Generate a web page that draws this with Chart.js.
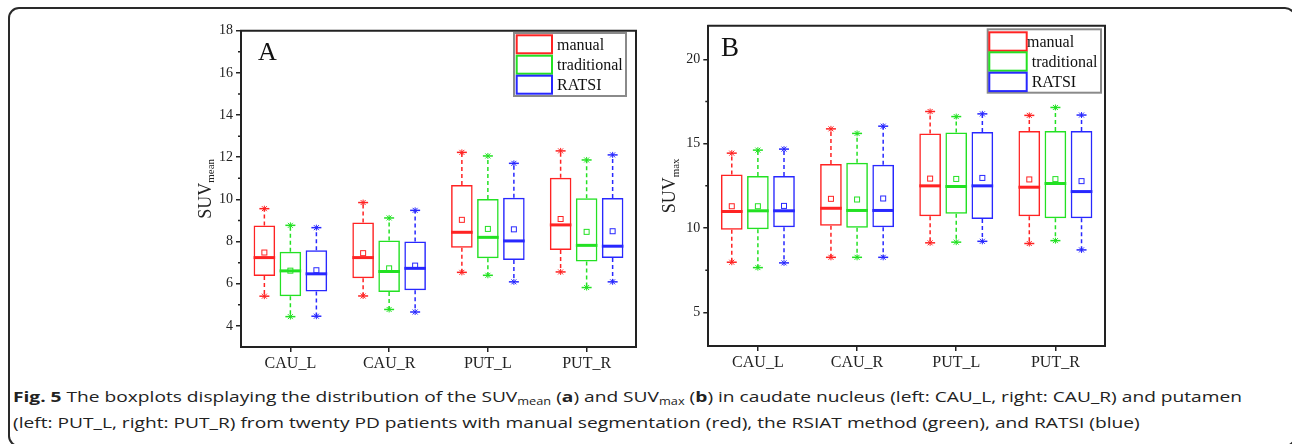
<!DOCTYPE html>
<html><head><meta charset="utf-8">
<script src="https://cdn.jsdelivr.net/npm/chart.js@4.4.0/dist/chart.umd.min.js"></script>
<style>
html,body{margin:0;padding:0;background:#fff;width:1292px;height:444px;overflow:hidden;position:relative;}
#frame{position:absolute;left:8px;top:7px;width:1288px;height:440px;border:2px solid #2a2a2a;border-radius:11px;box-sizing:border-box;}
#ca{position:absolute;left:190px;top:10px;}
#cb{position:absolute;left:650px;top:10px;}
.cap{position:absolute;left:13px;font-family:"Open Sans",sans-serif;font-size:15px;line-height:20px;color:#222;white-space:nowrap;transform-origin:0 0;}
.cap sub{font-size:10px;line-height:0;vertical-align:-3px;}
</style></head>
<body>
<div id="frame"></div>
<canvas id="ca" width="455" height="375"></canvas>
<canvas id="cb" width="460" height="375"></canvas>
<div class="cap" id="cap1" style="top:386px"><b>Fig. 5</b> The boxplots displaying the distribution of the SUV<sub>mean</sub> (<b>a</b>) and SUV<sub>max</sub> (<b>b</b>) in caudate nucleus (left: CAU_L, right: CAU_R) and putamen</div>
<div class="cap" id="cap2" style="top:412px">(left: PUT_L, right: PUT_R) from twenty PD patients with manual segmentation (red), the RSIAT method (green), and RATSI (blue)</div>
<script>
// ---- data ----
const categories = ['CAU_L', 'CAU_R', 'PUT_L', 'PUT_R'];
const seriesNames = ['manual', 'traditional', 'RATSI'];
// each entry: [min, q1, median, q3, max, mean]
const meanManual      = [[5.41,6.37,7.24,8.76,9.56,7.48],[5.42,6.26,7.24,8.91,9.85,7.45],[6.54,7.71,8.44,10.68,12.23,9.03],[6.56,7.60,8.79,11.03,12.30,9.07]];
const meanTraditional = [[4.44,5.41,6.61,7.52,8.77,6.62],[4.78,5.61,6.58,8.05,9.12,6.73],[6.40,7.21,8.20,10.02,12.06,8.60],[5.82,7.05,7.82,10.05,11.87,8.46]];
const meanRatsi       = [[4.46,5.63,6.47,7.59,8.66,6.64],[4.66,5.69,6.73,8.00,9.48,6.86],[6.09,7.13,8.03,10.08,11.71,8.58],[6.09,7.22,7.78,10.07,12.11,8.49]];
const maxManual       = [[7.97,9.89,10.98,13.17,14.44,11.29],[8.26,10.14,11.17,13.79,15.88,11.73],[9.12,10.70,12.50,15.61,16.91,12.93],[9.08,10.70,12.42,15.75,16.68,12.88]];
const maxTraditional  = [[7.65,9.93,11.02,13.09,14.62,11.29],[8.26,10.01,11.04,13.87,15.61,11.69],[9.16,10.84,12.46,15.67,16.61,12.91],[9.25,10.58,12.64,15.75,17.15,12.90]];
const maxRatsi        = [[7.93,10.05,11.02,13.09,14.68,11.31],[8.26,10.05,11.04,13.75,16.04,11.75],[9.21,10.54,12.50,15.69,16.77,12.97],[8.70,10.58,12.16,15.75,16.70,12.78]];
const yTicksMean = [4, 6, 8, 10, 12, 14, 16, 18];
const yMinorMean = [5, 7, 9, 11, 13, 15, 17];
const yTicksMax = [5, 10, 15, 20];
const yMinorMax = [7.5, 12.5, 17.5];

// ---- styles ----
const colors = ['rgb(255,35,35)', 'rgb(35,225,35)', 'rgb(40,40,255)'];
const AX = '#222';
const SERIF = '"Liberation Serif","Times New Roman",serif';

const boxPlugin = {
  id: 'boxextras',
  afterDatasetsDraw(chart) {
    const ctx = chart.ctx, ys = chart.scales.y;
    chart.data.datasets.forEach((ds, di) => {
      const meta = chart.getDatasetMeta(di);
      meta.data.forEach((bar, i) => {
        const s = ds.stats[i];
        const x = bar.x, w = bar.width;
        const pMin = ys.getPixelForValue(s[0]), pQ1 = ys.getPixelForValue(s[1]),
              pMed = ys.getPixelForValue(s[2]), pQ3 = ys.getPixelForValue(s[3]),
              pMax = ys.getPixelForValue(s[4]), pMean = ys.getPixelForValue(s[5]);
        ctx.save();
        ctx.strokeStyle = ds.borderColor;
        ctx.lineWidth = 1.5;
        ctx.setLineDash([4, 3]);
        ctx.beginPath();
        ctx.moveTo(x, pQ3); ctx.lineTo(x, pMax);
        ctx.moveTo(x, pQ1); ctx.lineTo(x, pMin);
        ctx.stroke();
        ctx.setLineDash([]);
        // caps
        [pMax, pMin].forEach(py => {
          ctx.lineWidth = 1.5;
          ctx.beginPath();
          ctx.moveTo(x - 5, py); ctx.lineTo(x + 5, py);
          ctx.stroke();
          ctx.lineWidth = 1;
          ctx.beginPath();
          ctx.moveTo(x - 2.5, py - 2.5); ctx.lineTo(x + 2.5, py + 2.5);
          ctx.moveTo(x - 2.5, py + 2.5); ctx.lineTo(x + 2.5, py - 2.5);
          ctx.moveTo(x, py - 3); ctx.lineTo(x, py + 3);
          ctx.stroke();
        });
        // median
        ctx.lineWidth = 3;
        ctx.beginPath();
        ctx.moveTo(x - w / 2, pMed); ctx.lineTo(x + w / 2, pMed);
        ctx.stroke();
        // mean
        ctx.lineWidth = 1;
        ctx.strokeRect(x - 2.5, pMean - 2.5, 5, 5);
        ctx.restore();
      });
    });
  }
};

const decoPlugin = {
  id: 'deco',
  afterDraw(chart, args, opts) {
    const ctx = chart.ctx, a = chart.chartArea, ys = chart.scales.y;
    ctx.save();
    // top and right frame
    ctx.strokeStyle = AX; ctx.lineWidth = 2;
    ctx.beginPath();
    ctx.moveTo(a.left - 1, a.top); ctx.lineTo(a.right, a.top); ctx.lineTo(a.right, a.bottom + 1);
    ctx.stroke();
    // minor ticks
    ctx.lineWidth = 1.5;
    ctx.beginPath();
    opts.minor.forEach(v => {
      const py = ys.getPixelForValue(v);
      ctx.moveTo(a.left - 3, py); ctx.lineTo(a.left, py);
    });
    ctx.stroke();
    // panel letter
    ctx.fillStyle = '#111';
    ctx.font = opts.letterSize + 'px ' + SERIF;
    ctx.textBaseline = 'alphabetic';
    ctx.textAlign = 'left';
    ctx.fillText(opts.letter, opts.letterX, opts.letterY);
    // y title with subscript
    const cy = (a.top + a.bottom) / 2;
    ctx.translate(opts.titleX, cy);
    ctx.rotate(-Math.PI / 2);
    ctx.font = '18px ' + SERIF;
    const w1 = ctx.measureText('SUV').width;
    ctx.font = '11px ' + SERIF;
    const w2 = ctx.measureText(opts.sub).width;
    const start = -(w1 + w2) / 2;
    ctx.fillStyle = AX;
    ctx.font = '18px ' + SERIF;
    ctx.fillText('SUV', start, 0);
    ctx.font = '11px ' + SERIF;
    ctx.fillText(opts.sub, start + w1, 3.5);
    ctx.restore();
    // legend
    const L = opts.legend;
    ctx.save();
    ctx.strokeStyle = '#8a8a8a'; ctx.lineWidth = 2;
    ctx.fillStyle = '#fff';
    ctx.fillRect(L.x, L.y, L.w, L.h);
    ctx.strokeRect(L.x, L.y, L.w, L.h);
    ctx.font = '16px ' + SERIF;
    ctx.textBaseline = 'middle';
    chart.data.datasets.forEach((ds, i) => {
      const top = L.rowTops[i];
      ctx.strokeStyle = ds.borderColor; ctx.lineWidth = 2;
      ctx.strokeRect(L.rx, top, L.rw, L.rh);
      ctx.fillStyle = '#111';
      ctx.fillText(ds.label, L.tx[i], top + L.rh / 2 + 1);
    });
    ctx.restore();
  }
};

function makeChart(id, series, yMin, yMax, majorTicks, minorTicks, dims, deco) {
  const datasets = series.map((stats, i) => ({
    label: seriesNames[i],
    data: stats.map(s => [s[1], s[3]]),
    stats: stats,
    backgroundColor: 'rgba(0,0,0,0)',
    borderColor: colors[i],
    borderWidth: 1.5,
    borderSkipped: false
  }));
  deco.minor = minorTicks;
  return new Chart(document.getElementById(id), {
    type: 'bar',
    data: { labels: categories, datasets },
    plugins: [boxPlugin, decoPlugin],
    options: {
      responsive: false, animation: false, devicePixelRatio: 1,
      layout: { padding: { top: dims.top, right: dims.right, left: 0, bottom: 0 } },
      datasets: { bar: { categoryPercentage: 0.79, barPercentage: 0.83 } },
      plugins: { legend: { display: false }, tooltip: { enabled: false }, deco: deco },
      scales: {
        x: {
          offset: true,
          grid: { display: true, offset: false, drawOnChartArea: false, drawTicks: true, tickLength: 5, color: AX, lineWidth: 1.5 },
          border: { display: true, color: AX, width: 2 },
          ticks: { font: { family: SERIF, size: 16 }, color: AX, padding: 2, maxRotation: 0 },
          afterFit(s) { s.height = dims.xh; }
        },
        y: {
          min: yMin, max: yMax,
          afterBuildTicks(s) { s.ticks = majorTicks.map(v => ({ value: v })); },
          grid: { drawOnChartArea: false, tickLength: 5, color: AX, lineWidth: 1.5 },
          border: { display: true, color: AX, width: 2 },
          ticks: { font: { family: SERIF, size: 14 }, color: AX, padding: 3 },
          afterFit(s) { s.width = dims.yw; }
        }
      }
    }
  });
}

makeChart('ca', [meanManual, meanTraditional, meanRatsi], 3, 18, yTicksMean, yMinorMean,
  { top: 20.7, right: 9, xh: 38, yw: 51 },
  { letter: 'A', letterSize: 26, letterX: 68, letterY: 50, titleX: 20.7, sub: 'mean',
    legend: { x: 324, y: 23, w: 112, h: 63, rx: 326.7, rw: 35.3, rh: 18, rowTops: [25.3, 45.7, 65.7], tx: [367, 367, 367] } });

makeChart('cb', [maxManual, maxTraditional, maxRatsi], 3, 22, yTicksMax, yMinorMax,
  { top: 15.7, right: 5, xh: 39, yw: 58.3 },
  { letter: 'B', letterSize: 27, letterX: 71, letterY: 46, titleX: 25, sub: 'max',
    legend: { x: 337.7, y: 19.3, w: 113.3, h: 63.4, rx: 339.3, rw: 37.4, rh: 18.4, rowTops: [22.3, 42.3, 62.7], tx: [377, 381.7, 381.7] } });

// fit caption width
(function () {
  const c1 = document.getElementById('cap1'), c2 = document.getElementById('cap2');
  const w = c1.getBoundingClientRect().width;
  const k = 1229 / w;
  c1.style.transform = 'scaleX(' + k + ')';
  c2.style.transform = 'scaleX(' + k + ')';
})();
</script>
</body></html>
